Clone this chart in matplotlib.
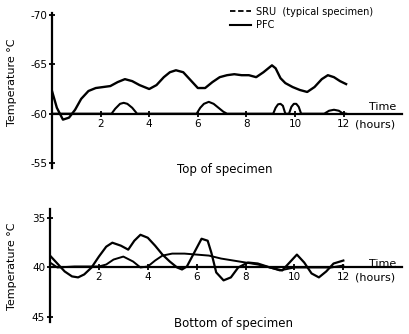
import matplotlib
matplotlib.use('Agg')
import matplotlib.pyplot as plt
from matplotlib.lines import Line2D


# =====================================
# Data
# =====================================
# ---------------------------------
# Top of specimen
# ---------------------------------
top_pfc_t = [0, 0.2, 0.45, 0.7, 0.95, 1.2, 1.5, 1.8, 2.1, 2.4, 2.7, 3.0, 3.3, 3.6,
             4.0, 4.3, 4.6, 4.85, 5.1, 5.4, 5.7, 6.0, 6.3, 6.6, 6.9, 7.2, 7.5,
             7.8, 8.1, 8.4, 8.7, 8.9, 9.05, 9.2, 9.4, 9.6, 9.9, 10.2, 10.5,
             10.8, 11.1, 11.35, 11.6, 11.85, 12.1]
top_pfc_v = [-62.3, -60.6, -59.4, -59.6, -60.4, -61.5, -62.3, -62.6, -62.7, -62.8, -63.2, -63.5,
             -63.3, -62.9, -62.5, -62.9, -63.7, -64.2, -64.4, -64.2, -63.4, -62.6, -62.6, -63.2,
             -63.7, -63.9, -64.0, -63.9, -63.9, -63.7, -64.2, -64.6, -64.9, -64.6, -63.6, -63.1,
             -62.7, -62.4, -62.2, -62.7, -63.5, -63.9, -63.7, -63.3, -63.0]

top_sru_t = [0, 2.45, 2.6, 2.8, 2.95, 3.1, 3.3, 3.5, 5.95, 6.1, 6.25, 6.45, 6.65,
             6.85, 7.05, 7.2, 9.1, 9.2, 9.3, 9.4, 9.5, 9.6, 9.75, 9.85, 9.95,
             10.05, 10.15, 10.25, 11.2, 11.4, 11.6, 11.8, 11.95, 12.1]
top_sru_v = [-60, -60, -60.5, -61.0, -61.1, -61.0, -60.6, -60, -60, -60.6, -61.0, -61.2, -61.0,
             -60.6, -60.2, -60, -60, -60.6, -60.95, -61.0, -60.8, -60, -60, -60.7, -61.0,
             -61.0, -60.7, -60, -60, -60.3, -60.4, -60.3, -60.05, -60]

# ---------------------------------
# Bottom of specimen
# ---------------------------------
bot_pfc_t = [0, 0.3, 0.6, 0.9, 1.15, 1.4, 1.7, 2.0, 2.3, 2.55, 2.9, 3.2, 3.45, 3.7,
             4.0, 4.3, 4.6, 4.9, 5.2, 5.4, 5.6, 5.9, 6.2, 6.45, 6.6, 6.8, 7.1,
             7.4, 7.7, 8.1, 8.5, 9.0, 9.5, 9.8, 10.1, 10.4, 10.7, 11.0, 11.3,
             11.6, 12.0]
bot_pfc_v = [38.8, 39.6, 40.4, 40.9, 41.0, 40.7, 40.0, 38.9, 37.9, 37.5, 37.8, 38.2, 37.3, 36.7,
             37.0, 37.8, 38.7, 39.4, 40.0, 40.2, 39.9, 38.5, 37.1, 37.3, 38.5, 40.5, 41.3,
             41.0, 40.0, 39.5, 39.6, 40.0, 40.3, 39.5, 38.7, 39.5, 40.6, 41.0, 40.4,
             39.6, 39.3]

bot_sru_t = [0, 0.3, 1.0, 2.0, 2.3, 2.6, 3.0, 3.4, 3.7, 4.0, 4.3, 4.6, 5.0, 5.5,
             6.0, 6.5, 7.0, 7.5, 8.0, 8.5, 9.0, 9.4, 10.0, 10.5, 11.0, 11.5, 12.0]
bot_sru_v = [39.5, 40.0, 39.9, 39.9, 39.7, 39.2, 38.9, 39.4, 40.0, 39.9, 39.3, 38.8, 38.6, 38.6,
             38.7, 38.8, 39.1, 39.3, 39.5, 39.7, 40.0, 40.3, 40.0, 40.0, 40.0, 40.0, 39.8]

x_ticks = [2, 4, 6, 8, 10, 12]
top_yticks = [-70, -65, -60, -55]
top_ylabels = ['-70', '-65', '-60', '-55']
bot_yticks = [35, 40, 45]
bot_ylabels = ['35', '40', '45']


# =====================================
# Helpers
# =====================================
W, H = 409, 334


def fig_box(x0, y0, x1, y1):
    # pixel box (top-left origin) -> figure fraction
    return [x0 / W, 1 - y1 / H, (x1 - x0) / W, (y1 - y0) / H]


def style_axes(ax, base, yticks, ylabels, ylim):
    for side in ['top', 'right']:
        ax.spines[side].set_visible(False)
    ax.spines['bottom'].set_position(('data', base))
    for side in ['left', 'bottom']:
        ax.spines[side].set_linewidth(1.6)
    ax.set_xlim(0, 14.4)
    ax.set_ylim(*ylim)
    ax.set_xticks(x_ticks)
    ax.set_xticklabels([str(t) for t in x_ticks])
    ax.set_yticks(yticks)
    ax.set_yticklabels(ylabels)
    ax.tick_params(axis='both', direction='inout', length=5, width=1.3,
                   labelsize=7.5, pad=1)
    ax.patch.set_alpha(0)


def main():
    plt.rcParams['font.family'] = ['DejaVu Sans']
    fig = plt.figure(figsize=(W / 100, H / 100), dpi=100)

    # ---------------------------------
    # Top panel
    # ---------------------------------
    ax_top = fig.add_axes(fig_box(52, 13, 402, 168))
    ax_top.plot(top_pfc_t, top_pfc_v, color='black', lw=1.7, solid_joinstyle='round')
    ax_top.plot(top_sru_t, top_sru_v, color='black', lw=1.5, solid_joinstyle='round')
    style_axes(ax_top, -60, top_yticks, top_ylabels, (-54.5, -70.2))
    ax_top.text(13.6, -60.2, 'Time', ha='center', va='bottom', fontsize=8)
    ax_top.text(13.3, -59.4, '(hours)', ha='center', va='top', fontsize=8)

    # ---------------------------------
    # Bottom panel
    # ---------------------------------
    ax_bot = fig.add_axes(fig_box(50, 209, 402, 322))
    ax_bot.plot(bot_pfc_t, bot_pfc_v, color='black', lw=1.6, solid_joinstyle='round')
    ax_bot.plot(bot_sru_t, bot_sru_v, color='black', lw=1.4, solid_joinstyle='round')
    style_axes(ax_bot, 40, bot_yticks, bot_ylabels, (45.5, 34.1))
    ax_bot.text(13.6, 40.2, 'Time', ha='center', va='bottom', fontsize=8)
    ax_bot.text(13.3, 40.5, '(hours)', ha='center', va='top', fontsize=8)

    # panel captions
    fig.text(225 / W, 1 - 170 / H, 'Top of specimen', ha='center', va='center',
             fontsize=8.5)
    fig.text(233 / W, 1 - 324 / H, 'Bottom of specimen', ha='center', va='center',
             fontsize=8.5)

    # y labels
    fig.text(12 / W, 1 - 82 / H, 'Temperature °C', rotation=90,
             ha='center', va='center', fontsize=8)
    fig.text(12 / W, 1 - 266 / H, 'Temperature °C', rotation=90,
             ha='center', va='center', fontsize=8)

    # legend
    handles = [Line2D([], [], color='black', lw=1.3, ls=(0, (3, 1.5))),
               Line2D([], [], color='black', lw=1.5)]
    fig.legend(handles, ['SRU  (typical specimen)', 'PFC'],
               loc='upper left', bbox_to_anchor=(226 / W, 1 - 3 / H),
               frameon=False, fontsize=7, handlelength=2.2,
               handletextpad=0.5, labelspacing=0.35, borderaxespad=0)

    fig.savefig('out.png', dpi=100)


if __name__ == "__main__":
    main()
